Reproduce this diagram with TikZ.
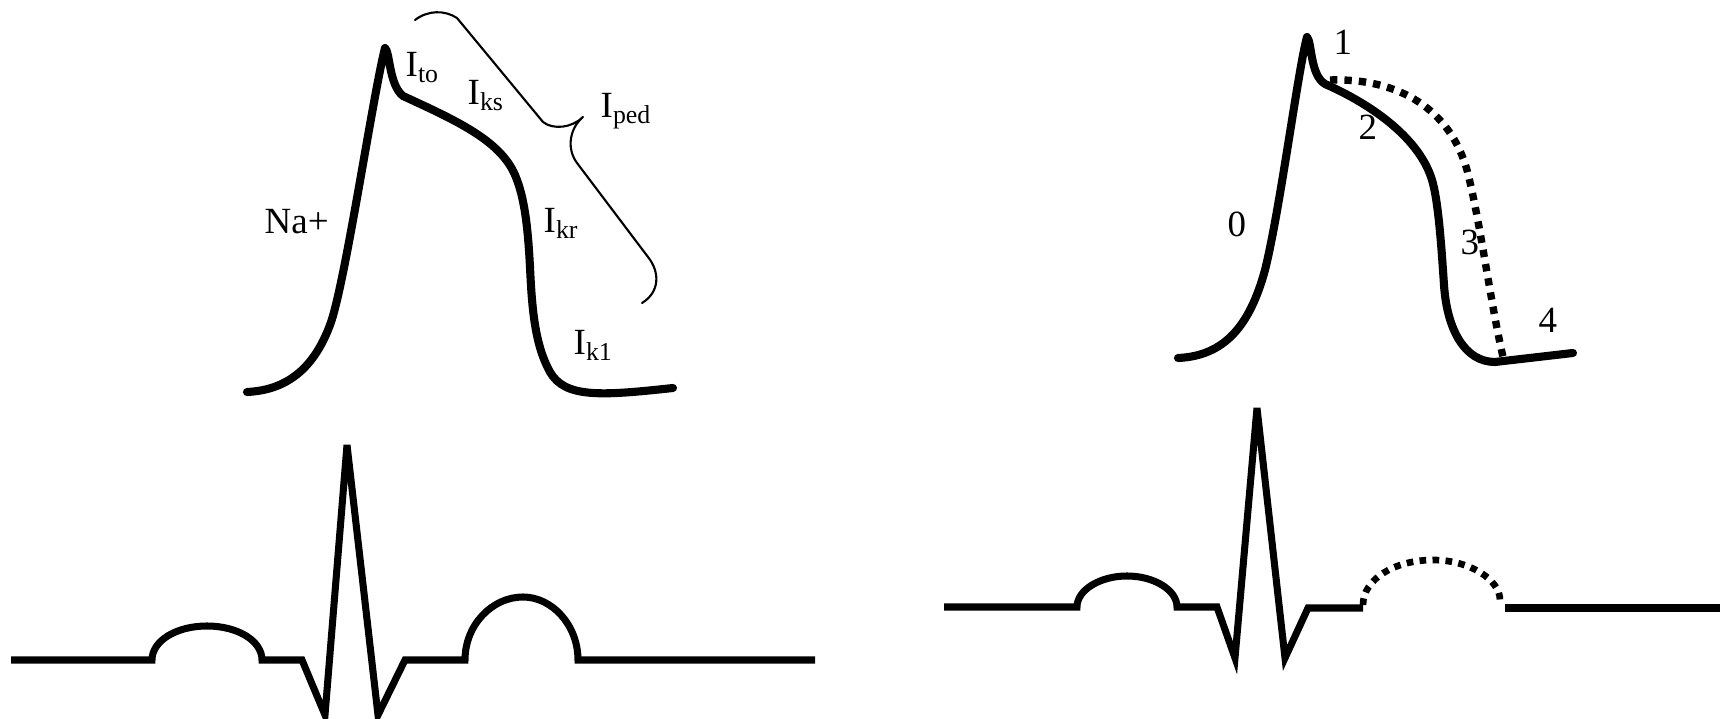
\documentclass[tikz,border=0pt]{standalone}
\usepackage{fontspec}
\setmainfont{Liberation Serif}
\newcommand{\lbl}[4]{\node[anchor=base west,inner sep=0pt] (#1) at (#2,#3) {#4};}
\newcommand{\cur}[1]{I\textsubscript{#1}}
\tikzset{ap/.style={line width=2.3pt,line cap=round,line join=round},
  ecg/.style={line width=2pt},
  dots/.style={line width=2.1pt,dash pattern=on 2.1pt off 2pt},
  brace/.style={line width=0.6pt,line cap=round,line join=round}}

\begin{document}
\begin{tikzpicture}[x=0.01cm,y=-0.01cm,font=\fontsize{10.5}{12.5}\selectfont]
    \useasboundingbox (0,0) rectangle (1720,719);
    % left: action potential with currents
    \draw[ap] (247,392) .. controls (290,390) and (315,365) .. (330,325) .. controls (345,285) and (372,100) .. (385,48)
        .. controls (390,52) and (389,85) .. (403,96) .. controls (455,120) and (500,140) .. (515,175)
        .. controls (525,198) and (528,230) .. (530,267) .. controls (532,310) and (535,345) .. (550,372)
        .. controls (565,398) and (600,396) .. (673,388);
    \draw[brace] (415,20) .. controls (428,10) and (445,10) .. (457,18) -- (543,122) .. controls (553,130) and (572,128) .. (583,117)
        .. controls (570,128) and (566,148) .. (577,163) -- (648,257) .. controls (660,272) and (660,292) .. (642,303);
    \lbl{na}{264}{234}{Na+}    \lbl{ito}{405}{77}{\cur{to}}
    \lbl{iks}{467}{105}{\cur{ks}}    \lbl{iped}{600}{118}{\cur{ped}}
    \lbl{ikr}{543}{233}{\cur{kr}}    \lbl{ikone}{573}{355}{\cur{k1}}
    % left: ecg
    \draw[ecg] (11,660) -- (152,660) .. controls (152,641) and (176,626) .. (207,626) .. controls (238,626) and (262,641) .. (262,660)
        -- (302,660) -- (325,715) -- (347,445) -- (378,715) -- (405,660) -- (465,660)
        .. controls (465,625) and (492,597) .. (523,597) .. controls (552,597) and (578,625) .. (578,660) -- (815,660);
    % right: action potential with phases
    \draw[ap] (1178,358) .. controls (1225,356) and (1250,325) .. (1265,270) .. controls (1280,210) and (1298,70) .. (1307,37)
        .. controls (1312,42) and (1310,75) .. (1325,84) .. controls (1375,106) and (1420,140) .. (1432,180)
        .. controls (1438,200) and (1441,240) .. (1444,285) .. controls (1447,330) and (1465,362) .. (1495,362) -- (1573,353);
    \draw[dots] (1330,80) .. controls (1400,78) and (1450,110) .. (1467,170) .. controls (1480,220) and (1490,300) .. (1503,357);
    \lbl{ph0}{1227}{237}{0}    \lbl{ph1}{1333}{55}{1}
    \lbl{ph2}{1358}{140}{2}    \lbl{ph3}{1460}{255}{3}
    \lbl{ph4}{1538}{333}{4}
    % right: ecg
    \draw[ecg] (944,607) -- (1077,607) .. controls (1077,590) and (1100,576) .. (1127,576) .. controls (1154,576) and (1177,590) .. (1177,607)
        -- (1217,607) -- (1235,658) -- (1257,408) -- (1285,658) -- (1308,608) -- (1363,608);
    \draw[dots,line width=1.9pt,dash pattern=on 1.9pt off 1.8pt] (1363,605) .. controls (1363,579) and (1395,560) .. (1433,560) .. controls (1470,560) and (1500,580) .. (1500,600);
    \draw[ecg] (1505,608) -- (1720,608);
\end{tikzpicture}
\end{document}
